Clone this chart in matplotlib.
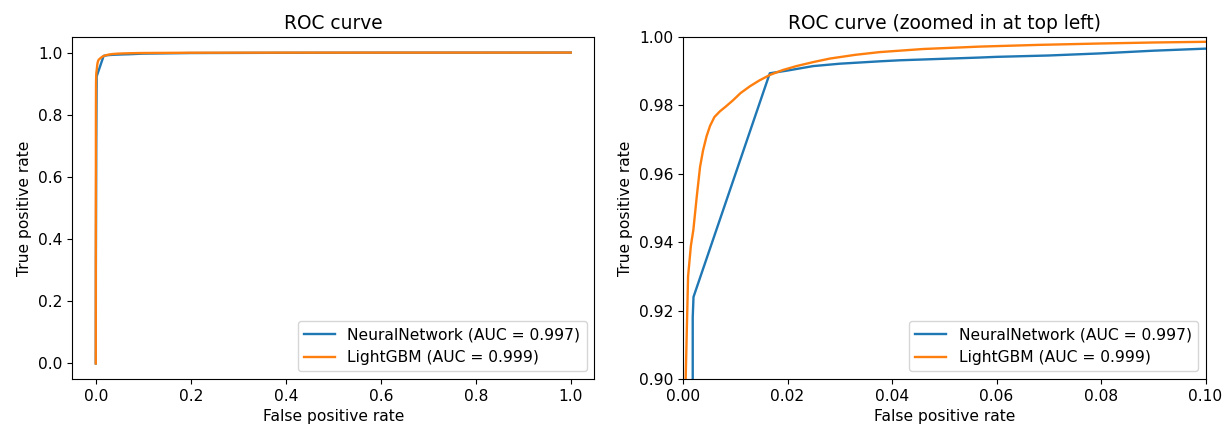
import numpy as np
import matplotlib
matplotlib.use("Agg")
import matplotlib.pyplot as plt

plt.rcParams["font.size"] = 11.2
plt.rcParams["lines.linewidth"] = 1.7

# ROC points (false positive rate, true positive rate)
nn_fpr = [0.0, 0.0002, 0.0010, 0.0017, 0.00185, 0.00185, 0.0020, 0.0166, 0.0200,
          0.0249, 0.0300, 0.0377, 0.0415, 0.0568, 0.0600, 0.0700, 0.0797, 0.0900,
          0.1000, 0.2000, 0.4000, 0.6000, 1.0]
nn_tpr = [0.0, 0.30, 0.70, 0.880, 0.900, 0.918, 0.924, 0.9894, 0.9902,
          0.9915, 0.9922, 0.9929, 0.9932, 0.9940, 0.9942, 0.9946, 0.9952, 0.9960,
          0.9966, 0.9985, 0.9993, 0.9997, 1.0]

lgb_fpr = [0.0, 0.0001, 0.0003, 0.0005, 0.00096, 0.0015, 0.00197, 0.00262, 0.00325,
           0.00382, 0.0045, 0.00516, 0.0060, 0.00707, 0.0082, 0.00956, 0.0110,
           0.0128, 0.0146, 0.0166, 0.0190, 0.0217, 0.0250, 0.0281, 0.0330, 0.0377,
           0.0460, 0.0568, 0.0680, 0.0797, 0.0900, 0.1000, 0.2000, 0.4000, 1.0]
lgb_tpr = [0.0, 0.40, 0.80, 0.900, 0.9300, 0.9390, 0.9436, 0.9533, 0.9620,
           0.9668, 0.9710, 0.9740, 0.9766, 0.9783, 0.9797, 0.9815, 0.9836,
           0.9856, 0.9873, 0.9889, 0.9903, 0.9915, 0.9927, 0.9937, 0.9948, 0.9956,
           0.9965, 0.9972, 0.9977, 0.9981, 0.9984, 0.9986, 0.9995, 0.9998, 1.0]

nn_label = "NeuralNetwork (AUC = 0.997)"
lgb_label = "LightGBM (AUC = 0.999)"

fig = plt.figure(figsize=(12.25, 4.28), dpi=100)
ax1 = fig.add_axes([0.0588, 0.1145, 0.4265, 0.799])
ax2 = fig.add_axes([0.5576, 0.1145, 0.4265, 0.799])

# full curve
ax1.plot(nn_fpr, nn_tpr, label=nn_label)
ax1.plot(lgb_fpr, lgb_tpr, label=lgb_label)
ax1.set_xlabel("False positive rate")
ax1.set_ylabel("True positive rate")
ax1.set_title("ROC curve")
ax1.legend(loc="lower right")

# zoomed in
ax2.plot(nn_fpr, nn_tpr, label=nn_label)
ax2.plot(lgb_fpr, lgb_tpr, label=lgb_label)
ax2.set_xlim(0, 0.1)
ax2.set_ylim(0.9, 1.0)
ax2.set_xlabel("False positive rate")
ax2.set_ylabel("True positive rate")
ax2.set_title("ROC curve (zoomed in at top left)")
ax2.legend(loc="lower right")

fig.savefig("out.png", dpi=100)
